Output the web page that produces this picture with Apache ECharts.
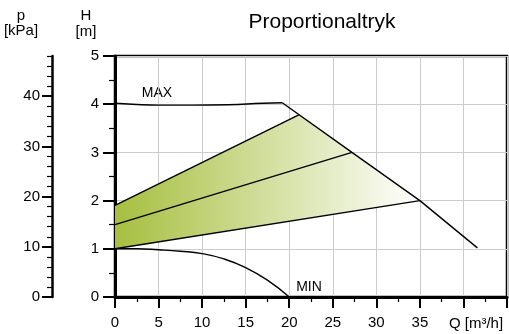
<!DOCTYPE html>
<html>
<head>
<meta charset="utf-8">
<script src="https://cdn.jsdelivr.net/npm/echarts@6/dist/echarts.min.js"></script>
<style>
html, body { margin: 0; padding: 0; background: #fff; }
#chart { width: 509px; height: 334px; }
</style>
</head>
<body>
<div id="chart"></div>
<script>
// pump curves, Q [m3/h] vs H [m]
const maxFlat = [[0, 4.02], [2, 4.0], [5, 3.98], [9, 3.98], [13, 3.99], [17, 4.02], [19.2, 4.03]]
const maxDrop = [[19.2, 4.03], [27.2, 3.0], [35, 2.0], [41.6, 1.02]]
const minCurve = [[0, 1.0], [2.5, 1.0], [5, 0.98], [7.5, 0.95], [10, 0.9], [12.5, 0.79], [15, 0.61], [17.5, 0.35], [20, 0]]
const propHigh = [[0, 1.9], [21.1, 3.78]]
const propMid = [[0, 1.5], [27.2, 3.0]]
const propLow = [[0, 1.0], [35, 2.0]]

// p axis ticks [kPa]
const pMajor = [0, 10, 20, 30, 40]
const pMinor = [2, 4, 6, 8, 12, 14, 16, 18, 22, 24, 26, 28, 32, 34, 36, 38, 42, 44, 46, 48]
const qLabels = [0, 5, 10, 15, 20, 25, 30, 35]

const FONT = 'Liberation Sans, Arial, sans-serif'
const chart = echarts.init(document.getElementById('chart'))

// shaded band between the lowest and highest proportional curve
const fillArea = [propLow[0], propLow[1], propHigh[1], propHigh[0]]

const line = (data, smooth) => ({
  type: 'line',
  data: data,
  smooth: smooth,
  symbol: 'none',
  lineStyle: { color: '#000', width: 1.4 },
  z: 5
})

const text = (x, y, str, size) => ({
  type: 'text',
  x: x,
  y: y,
  style: {
    text: str,
    fill: '#000',
    font: size + 'px ' + FONT,
    textAlign: 'center',
    textVerticalAlign: 'middle'
  }
})

const option = {
  animation: false,
  grid: {
    left: 115,
    right: 2,
    top: 56,
    bottom: 37,
    show: true,
    borderColor: '#000',
    borderWidth: 2.5
  },
  xAxis: {
    type: 'value',
    min: 0,
    max: 45,
    interval: 5,
    axisLine: { lineStyle: { color: '#000', width: 3 } },
    axisTick: { length: 11, lineStyle: { color: '#000', width: 2 } },
    minorTick: { show: true, splitNumber: 2, length: 5, lineStyle: { color: '#000', width: 1.2 } },
    splitLine: { lineStyle: { color: '#cccccc', width: 1 } },
    axisLabel: {
      color: '#000',
      fontSize: 15,
      fontFamily: FONT,
      margin: 18,
      customValues: qLabels
    }
  },
  yAxis: [
    {
      type: 'value',
      min: 0,
      max: 5,
      interval: 1,
      axisLine: { show: true, lineStyle: { color: '#000', width: 3 } },
      axisTick: { show: true, length: 12, lineStyle: { color: '#000', width: 2 } },
      minorTick: { show: true, splitNumber: 2, length: 6, lineStyle: { color: '#000', width: 1.2 } },
      splitLine: { lineStyle: { color: '#cccccc', width: 1 } },
      axisLabel: { color: '#000', fontSize: 15, fontFamily: FONT, margin: 16 }
    },
    {
      type: 'value',
      position: 'left',
      offset: 63,
      min: 0,
      max: 48,
      axisLine: { show: true, lineStyle: { color: '#000', width: 2.5 } },
      axisTick: { show: true, length: 10, customValues: pMajor, lineStyle: { color: '#000', width: 2 } },
      splitLine: { show: false },
      axisLabel: { color: '#000', fontSize: 15, fontFamily: FONT, margin: 12, customValues: pMajor }
    },
    {
      type: 'value',
      position: 'left',
      offset: 63,
      min: 0,
      max: 48,
      axisLine: { show: false },
      axisTick: { show: true, length: 5, customValues: pMinor, lineStyle: { color: '#000', width: 1.2 } },
      splitLine: { show: false },
      axisLabel: { show: false }
    }
  ],
  series: [
    {
      type: 'custom',
      data: [0],
      z: 2,
      renderItem: (params, api) => {
        const pts = fillArea.map(p => api.coord(p))
        return {
          type: 'polygon',
          shape: { points: pts },
          style: {
            fill: new echarts.graphic.LinearGradient(0, 0, 1, 0, [
              { offset: 0, color: '#a6bf3f' },
              { offset: 1, color: '#ffffff' }
            ])
          }
        }
      }
    },
    line(maxFlat, true),
    line(maxDrop, false),
    line(minCurve, true),
    line(propHigh, false),
    line(propMid, false),
    line(propLow, false)
  ],
  graphic: [
    text(322, 22, 'Proportionaltryk', 21),
    text(21, 16, 'p', 15),
    text(21, 31, '[kPa]', 15),
    text(86, 16, 'H', 15),
    text(86, 32, '[m]', 15),
    text(157, 93, 'MAX', 14),
    text(309, 287, 'MIN', 14),
    text(476, 324, 'Q [m³/h]', 15)
  ]
}

chart.setOption(option)
</script>
</body>
</html>
